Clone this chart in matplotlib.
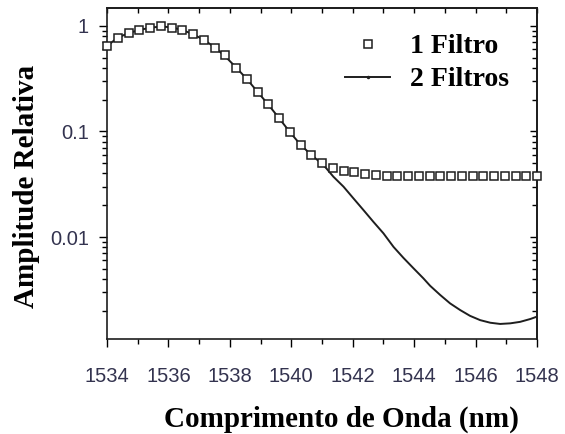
import numpy as np
import matplotlib.pyplot as plt
from matplotlib.lines import Line2D
from matplotlib.ticker import LogLocator, MultipleLocator, NullFormatter

# 1 Filtro (squares), nm
lam_1 = [1534.00, 1534.35, 1534.70, 1535.05, 1535.40, 1535.75, 1536.10, 1536.45,
         1536.80, 1537.15, 1537.50, 1537.85, 1538.20, 1538.55, 1538.90, 1539.25,
         1539.60, 1539.95, 1540.30, 1540.65, 1541.00, 1541.35, 1541.70, 1542.05,
         1542.40, 1542.75, 1543.10, 1543.45, 1543.80, 1544.15, 1544.50, 1544.85,
         1545.20, 1545.55, 1545.90, 1546.25, 1546.60, 1546.95, 1547.30, 1547.65,
         1548.00]
amp_1 = [0.646, 0.775, 0.849, 0.917, 0.957, 1.0, 0.964, 0.917,
         0.840, 0.737, 0.623, 0.525, 0.397, 0.317, 0.238, 0.182,
         0.133, 0.0996, 0.0745, 0.0605, 0.0508, 0.0448, 0.0425, 0.0409,
         0.0393, 0.0391, 0.0379, 0.0379, 0.0379, 0.0379, 0.0379, 0.0379,
         0.0379, 0.0379, 0.0379, 0.0379, 0.0379, 0.0379, 0.0379, 0.0379,
         0.0379]

# 2 Filtros (line)
lam_2 = [1534.00, 1534.35, 1534.70, 1535.05, 1535.40, 1535.75, 1536.10, 1536.45,
         1536.80, 1537.15, 1537.50, 1537.85, 1538.20, 1538.55, 1538.90, 1539.25,
         1539.60, 1539.95, 1540.30, 1540.65, 1541.05, 1541.37, 1541.70, 1542.02,
         1542.35, 1542.67, 1543.00, 1543.33, 1543.65, 1543.98, 1544.30, 1544.52,
         1544.85, 1545.17, 1545.50, 1545.82, 1546.15, 1546.48, 1546.80, 1547.13,
         1547.45, 1547.78, 1548.00]
amp_2 = [0.646, 0.775, 0.855, 0.917, 0.96, 0.99, 0.97, 0.917,
         0.835, 0.74, 0.63, 0.515, 0.405, 0.315, 0.238, 0.18,
         0.134, 0.099, 0.075, 0.060, 0.0481, 0.0373, 0.0300, 0.0233,
         0.0180, 0.01396, 0.01084, 0.00805, 0.00635, 0.00505, 0.00406, 0.00345,
         0.00282, 0.00235, 0.00203, 0.00179, 0.00163, 0.00154, 0.00150, 0.00152,
         0.00157, 0.00167, 0.00176]

xticks = [1534, 1536, 1538, 1540, 1542, 1544, 1546, 1548]
yticks = [1, 0.1, 0.01]
ytick_labels = ['1', '0.1', '0.01']

serif = 'Liberation Serif'
sans = 'Liberation Sans'
tick_col = '#33334f'
ink = '#1e1e1e'

fig = plt.figure(figsize=(5.65, 4.34), dpi=100)
ax = fig.add_axes([107/565, 1-339/434, 430/565, 331/434])

ax.plot(lam_2, amp_2, '-', color=ink, lw=1.4, zorder=2)
ax.plot(lam_1, amp_1, 's', mfc='white', mec=ink, mew=1.1, ms=5.8,
        ls='none', zorder=3, clip_on=False)

ax.set_yscale('log')
ax.set_xlim(1534, 1548)
ax.set_ylim(0.00108, 1.48)

ax.set_xticks(xticks)
ax.set_xticklabels([str(t) for t in xticks], fontfamily=sans, fontsize=14.5, color=tick_col)
ax.xaxis.set_minor_locator(MultipleLocator(1))
ax.set_yticks(yticks)
ax.set_yticklabels(ytick_labels, fontfamily=sans, fontsize=14.5, color=tick_col)
ax.yaxis.set_minor_locator(LogLocator(base=10, subs=np.arange(2, 10)))
ax.yaxis.set_minor_formatter(NullFormatter())

ax.tick_params(axis='x', which='major', direction='out', length=6, width=1, pad=14)
ax.tick_params(axis='x', which='minor', direction='out', length=3.5, width=1)
ax.tick_params(axis='y', which='major', direction='out', length=6, width=1, pad=7)
ax.tick_params(axis='y', which='minor', direction='out', length=3.5, width=1)

for s in ax.spines.values():
    s.set_linewidth(1.2)
    s.set_color(ink)

# mirrored ticks pointing inward on top and right
top = ax.secondary_xaxis('top')
top.set_xticks(xticks)
top.xaxis.set_minor_locator(MultipleLocator(1))
top.tick_params(which='both', direction='in', length=3.5, width=1, labeltop=False)
top.spines['top'].set_linewidth(1.2)

right = ax.secondary_yaxis('right')
right.set_yticks(yticks)
right.yaxis.set_minor_locator(LogLocator(base=10, subs=np.arange(2, 10)))
right.yaxis.set_minor_formatter(NullFormatter())
right.tick_params(which='major', direction='in', length=5, width=1, labelright=False)
right.tick_params(which='minor', direction='in', length=3.5, width=1, labelright=False)
right.spines['right'].set_linewidth(1.2)

ax.set_xlabel('Comprimento de Onda (nm)', fontfamily=serif, fontweight='bold', fontsize=21)
ax.xaxis.set_label_coords((341-107)/430, (339-419)/331)
ax.xaxis.label.set_va('center')
ax.set_ylabel('Amplitude Relativa', fontfamily=serif, fontweight='bold', fontsize=21)
ax.yaxis.set_label_coords((27-107)/430, (339-186)/331)
ax.yaxis.label.set_va('center')

handles = [Line2D([], [], ls='none', marker='s', mfc='white', mec=ink, mew=1.1, ms=5.6),
           Line2D([], [], ls='-', color=ink, lw=1.4, marker='o', ms=1.5)]
ax.legend(handles, ['1 Filtro', '2 Filtros'], loc='upper left', frameon=False,
          bbox_to_anchor=(345/565, 1-34/434), bbox_transform=fig.transFigure,
          borderpad=0, borderaxespad=0, handlelength=1.62, handletextpad=0.72,
          labelspacing=0.27, prop={'family': serif, 'weight': 'bold', 'size': 20})

fig.savefig('out.png', dpi=100)
